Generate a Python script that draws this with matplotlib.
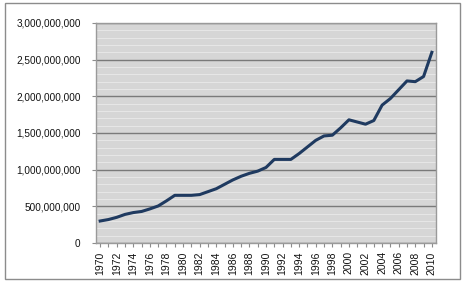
import matplotlib.pyplot as plt
from matplotlib.patches import Rectangle
from matplotlib.ticker import FuncFormatter, MultipleLocator

# --- data ---
years = list(range(1970, 2011))
values_m = [300, 320, 350, 390, 415, 430, 465, 505, 575, 650,
            650, 650, 660, 700, 740, 800, 860, 910, 950, 980,
            1030, 1140, 1140, 1140, 1220, 1310, 1400, 1460, 1470, 1570,
            1680, 1650, 1620, 1670, 1880, 1970, 2090, 2210, 2200, 2270,
            2600]
values = [v * 1e6 for v in values_m]
year_labels = [str(y) if y % 2 == 0 else "" for y in years]

plt.rcParams['font.family'] = ['Liberation Sans', 'DejaVu Sans']

fig = plt.figure(figsize=(4.63, 2.82), dpi=100)
ax = fig.add_axes([96 / 463, 39 / 282, 340 / 463, 220 / 282])

# outer chart border
fig.patches.append(Rectangle((5 / 463, 3 / 282), 455 / 463, 276 / 282,
                             transform=fig.transFigure, fill=False,
                             edgecolor='#8c8c8c', linewidth=1.0))

ax.set_facecolor('#d6d6d6')
x = list(range(len(years)))
ax.plot(x, values, color='#1f3a60', linewidth=2.2, zorder=3)

ax.set_xlim(-0.5, len(years) - 0.5)
ax.set_ylim(0, 3e9)
ax.yaxis.set_major_locator(MultipleLocator(5e8))
ax.yaxis.set_minor_locator(MultipleLocator(1e8))
ax.yaxis.set_major_formatter(FuncFormatter(lambda v, p: f"{int(v):,}"))
ax.grid(which='minor', axis='y', color='#e6e6e6', linewidth=0.8, zorder=1)
ax.grid(which='major', axis='y', color='#7a7a7a', linewidth=1.0, zorder=2)

ax.set_xticks(x)
ax.set_xticklabels(year_labels, rotation=90, fontsize=7.5, color='#111111')
ax.tick_params(axis='y', which='major', labelsize=7.2, length=3, pad=8,
               color='#8c8c8c', labelcolor='#111111')
ax.tick_params(axis='y', which='minor', length=0)
ax.tick_params(axis='x', length=3, color='#8c8c8c', pad=3)

for s in ax.spines.values():
    s.set_color('#9a9a9a')
    s.set_linewidth(1.0)

fig.savefig('out.png', dpi=100)
